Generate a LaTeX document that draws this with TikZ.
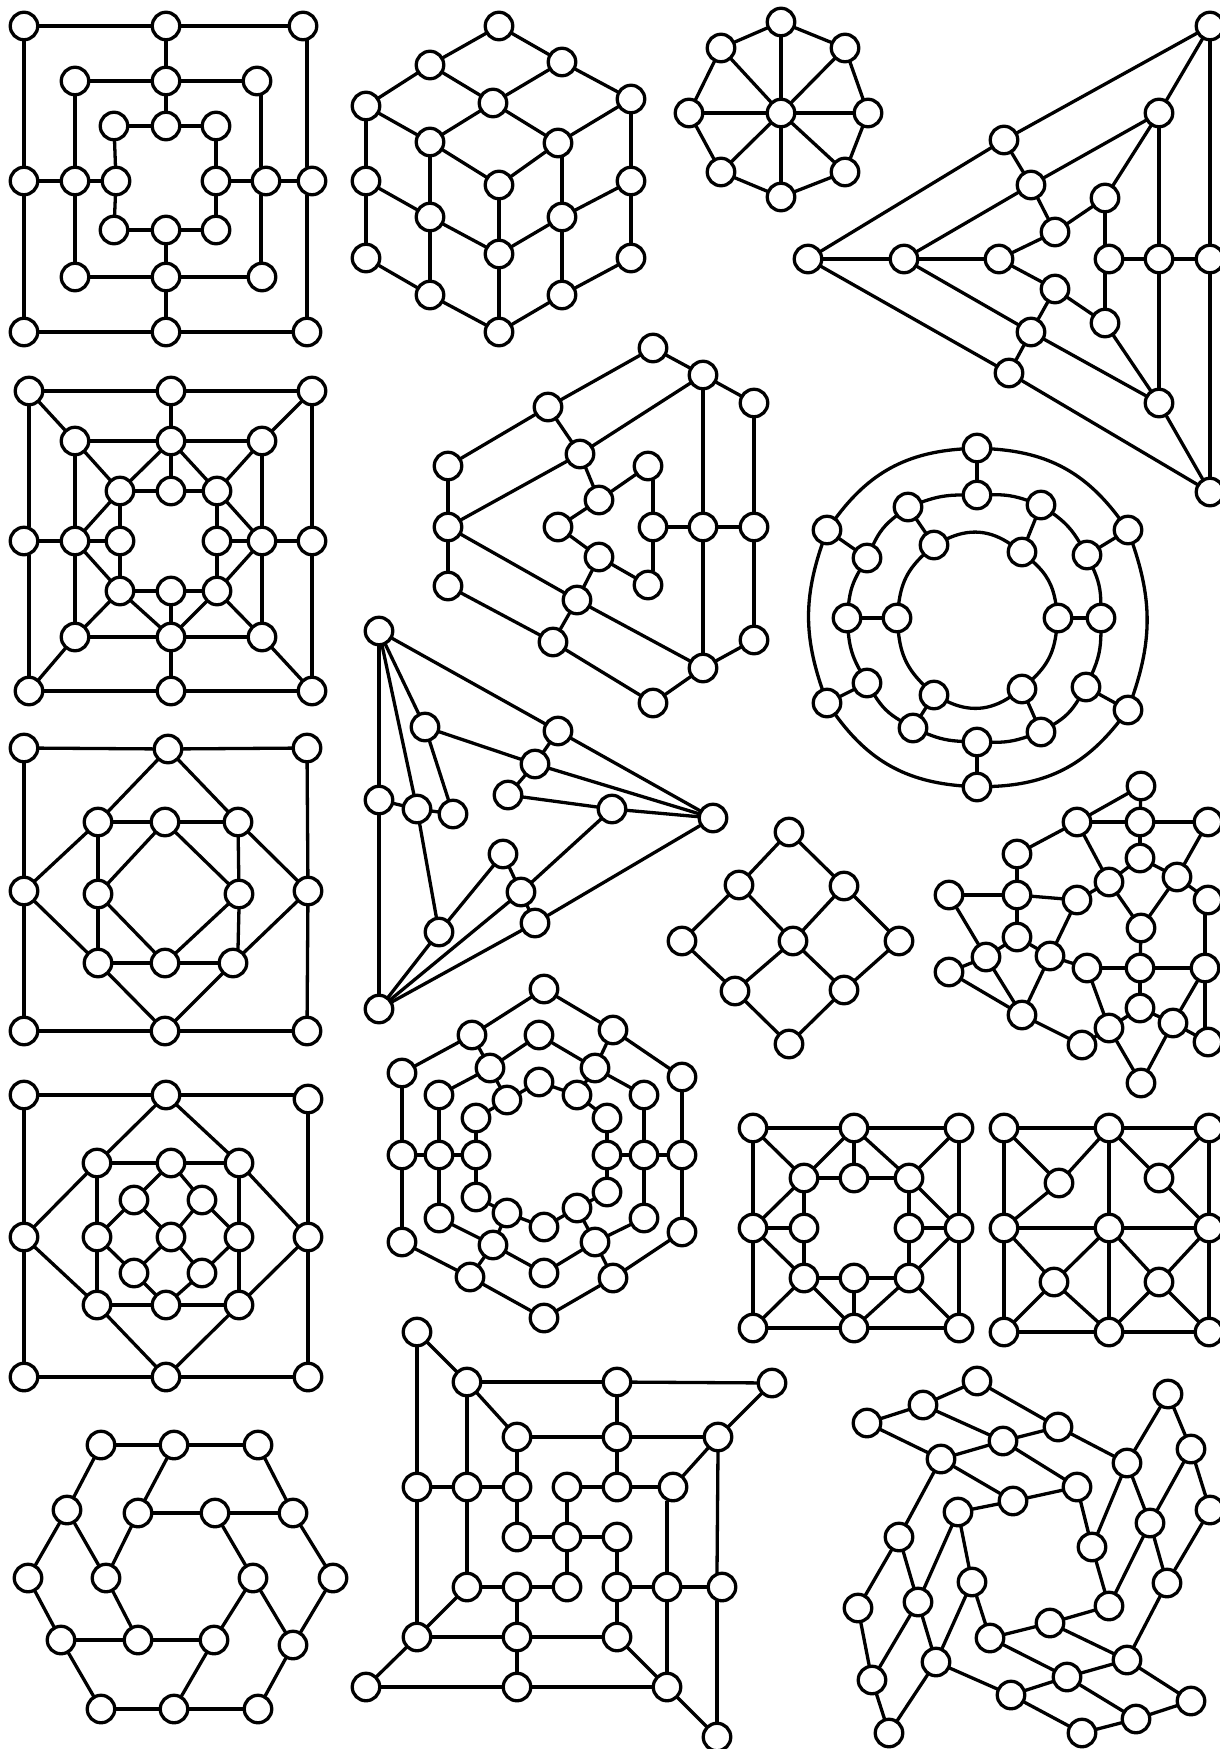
\documentclass[tikz,border=0pt]{standalone}
\tikzset{
  vtx/.style={circle,draw=black,fill=white,line width=3.3pt,inner sep=0pt,outer sep=0pt,minimum size=27.5pt},
  lnk/.style={draw=black,line width=3.3pt}
}
\newcommand\gph[3]{%
  \foreach \n/\x/\y in {#2}{\node[vtx] (#1\n) at (\x,\y) {};}
  \foreach \p/\q in {#3}{\draw[lnk] (#1\p) -- (#1\q);}
}
\newcommand\sedge[4]{\draw[lnk] ([shift={(#2)}]#1) -- ([shift={(#4)}]#3);}
\begin{document}
\begin{tikzpicture}[x=1pt,y=-1pt]
\fill[white] (0,0) rectangle (1220,1749);
\useasboundingbox (0,0) rectangle (1220,1749);
% 1 nested squares, top left
\gph{a}{1/24/26,2/166/26,3/303/26,4/75/81,5/166/81,6/257/81,7/114/126,8/166/126,9/216/126,
10/24/181,11/75/181,12/116/181,13/216/181,14/266/181,15/312/181,16/114/230,17/166/230,18/216/230,
19/75/277,20/166/277,21/262/277,22/24/332,23/166/332,24/307/332}
{1/2,2/3,1/10,10/22,22/23,23/24,2/5,4/5,5/6,4/11,11/19,5/8,7/8,8/9,7/12,12/16,9/13,13/18,
10/11,11/12,13/14,14/15,16/17,17/18,17/20,19/20,20/21,20/23}
\sedge{a3.south}{4,0}{a15.north}{-5,0}
\sedge{a15.south}{-5,0}{a24.north}{0,0}
\sedge{a6.south}{4,0}{a14.north}{-5,0}
\sedge{a14.south}{-5,0}{a21.north}{-1,0}
% 2 cube
\gph{b}{1/499/26,2/430/65,3/562/62,4/366/106,5/493/103,6/631/99,7/430/142,8/558/143,9/366/181,10/499/185,
11/631/181,12/430/217,13/562/217,14/366/258,15/499/254,16/631/258,17/430/295,18/562/295,19/499/332}
{1/2,1/3,2/4,2/5,3/5,3/6,4/7,5/7,5/8,6/8,7/10,8/10,4/9,9/14,6/11,11/16,7/12,12/17,13/18,10/15,15/19,
9/12,11/13,12/15,13/15,14/17,16/18,17/19,18/19}
\sedge{b8.south}{4,0}{b13.north}{0,0}
% 3 wheel
\gph{c}{0/781/113,1/781/22,2/845/48,3/868/113,4/845/172,5/781/197,6/721/172,7/689/113,8/721/48}
{1/2,2/3,3/4,4/5,5/6,6/7,7/8,8/1,0/1,0/2,0/3,0/4,0/5,0/6,0/7,0/8}
% 4 large triangle
\gph{d}{1/1210/26,2/1159/113,3/1105/198,4/1004/140,5/1031/185,6/1055/232,7/808/259,8/904/259,9/999/259,
10/1109/259,11/1159/259,12/1210/259,13/1055/289,14/1031/332,15/1105/323,16/1009/373,17/1159/403,18/1210/492}
{7/4,4/1,4/5,5/2,2/1,2/3,5/6,5/8,3/6,6/9,8/7,8/9,10/11,11/12,1/12,2/11,12/18,11/17,7/16,8/14,14/13,13/9,
13/15,14/16,14/17,15/17,16/18,17/18}
\sedge{d3.south}{0,0}{d10.north}{-4,0}
\sedge{d10.south}{-4,0}{d15.north}{0,0}
% 5 square with inner ring
\gph{e}{1/29/391,2/171/391,3/312/391,4/75/441,5/171/441,6/262/441,7/120/491,8/171/491,9/217/491,
10/24/541,11/75/541,12/120/541,13/217/541,14/262/541,15/312/541,16/120/591,17/171/591,18/217/591,
19/75/637,20/171/637,21/262/637,22/29/691,23/171/691,24/312/691}
{1/2,2/3,3/15,15/24,22/23,23/24,2/5,1/4,3/6,22/19,24/21,4/5,5/6,4/11,11/19,6/14,14/21,19/20,20/21,
5/8,7/8,8/9,7/12,12/16,9/13,13/18,16/17,17/18,10/11,11/12,13/14,14/15,20/17,20/23,4/7,5/7,5/9,6/9,7/11,9/14,
11/16,14/18,16/19,16/20,18/20,18/21}
\sedge{e1.south}{0,0}{e10.north}{5,0}
\sedge{e10.south}{5,0}{e22.north}{0,0}
% 6 triangle with hexagon interior
\gph{f}{1/653/348,2/703/375,3/754/403,4/548/407,5/580/454,6/448/466,7/648/466,8/599/500,9/448/527,10/558/527,
11/653/527,12/703/527,13/754/527,14/599/557,15/448/586,16/648/585,17/577/600,18/553/642,19/754/640,20/703/668,21/653/703}
{6/4,4/1,1/2,2/3,2/5,4/5,5/9,5/8,8/7,8/10,11/12,12/13,3/13,13/19,2/12,12/20,19/20,20/21,21/18,18/15,15/9,9/6,
9/17,17/14,14/10,14/16,17/18,17/20}
\sedge{f7.south}{5,0}{f11.north}{0,0}
\sedge{f16.north}{5,0}{f11.south}{0,0}
% 7 concentric rings
\gph{g}{1/977/448,2/977/495,3/908/507,4/1041/505,5/827/530,6/1128/530,7/867/558,8/934/545,9/1022/552,10/1087/555,
11/847/618,12/897/618,13/1058/618,14/1101/618,15/867/683,16/934/695,17/1022/689,18/1086/687,19/827/703,20/1128/710,
21/913/728,22/1041/732,23/977/742,24/977/787}
{1/2,3/8,4/9,5/7,6/10,11/12,13/14,15/19,18/20,16/21,17/22,23/24}
\foreach \p/\q/\b in {1/6/25,6/20/19,20/24/25,24/19/25,19/5/19,5/1/25,
2/4/10,4/10/12,10/14/12,14/18/12,18/22/14,22/23/10,23/21/10,21/15/14,15/11/12,11/7/12,7/3/14,3/2/10,
8/9/30,9/13/20,13/17/20,17/16/30,16/12/20,12/8/20}
  {\draw[lnk] (g\p) to[bend left=\b] (g\q);}
% 8 square and diamonds, row 3
\gph{h}{1/24/748,2/168/749,3/307/748,4/98/822,5/165/822,6/238/822,7/24/891,8/98/894,9/239/894,10/308/891,
11/98/963,12/165/963,13/233/963,14/24/1031,15/165/1031,16/307/1031}
{1/2,2/3,1/7,7/14,3/10,10/16,14/15,15/16,2/4,2/6,7/4,7/11,10/6,10/13,15/11,15/13,4/5,5/6,4/8,8/11,6/9,
11/12,12/13,5/8,5/9,8/12,9/12}
\sedge{h9.south}{0,0}{h13.north}{5,0}
% 9 skewed triangle
\gph{i}{1/379/631,2/558/731,3/425/727,4/535/764,5/508/795,6/612/809,7/713/818,8/379/800,9/417/809,10/453/814,
11/503/854,12/521/892,13/535/923,14/439/932,15/379/1009}
{1/2,2/7,1/8,8/15,1/3,1/9,3/10,3/4,2/4,4/7,4/5,5/6,6/7,8/9,9/10,9/14,14/11,14/15,11/12,12/6,12/15,13/7,13/15,12/13}
% 10 small diamond grid
\gph{j}{1/789/832,2/739/885,3/844/886,4/682/941,5/793/941,6/899/941,7/735/991,8/844/990,9/789/1044}
{1/2,1/3,2/4,2/5,3/5,3/6,4/7,5/7,5/8,6/8,7/9,8/9}
% 11 pentagon pattern at right
\gph{k}{1/1141/786,2/1077/822,3/1140/822,4/1208/822,5/1017/854,6/1140/858,7/949/895,8/1017/895,9/1077/900,10/1109/882,
11/1177/877,12/1208/900,13/1141/928,14/1017/937,15/986/957,16/1050/956,17/949/972,18/1087/968,19/1140/968,20/1205/968,
21/1140/1008,22/1022/1015,23/1109/1028,24/1173/1023,25/1082/1045,26/1208/1042,27/1141/1083}
{1/3,1/2,2/3,3/4,3/6,2/5,2/10,4/11,5/8,6/10,6/11,7/8,8/9,8/14,7/15,9/10,9/16,10/13,11/13,11/12,13/19,14/15,14/16,
15/17,15/22,16/22,16/18,17/22,18/19,19/20,19/21,18/23,20/24,21/23,21/24,22/25,23/25,23/27,24/27,24/26}
\sedge{k12.south}{-3,0}{k20.north}{0,0}
\sedge{k20.south}{0,0}{k26.north}{-3,0}
% 12 hexagon rings
\gph{l}{1/544/989,2/472/1035,3/539/1035,4/613/1030,5/402/1073,6/490/1068,7/539/1082,8/595/1068,9/682/1077,10/439/1095,
11/507/1100,12/577/1095,13/644/1095,14/476/1118,15/607/1118,16/402/1155,17/439/1155,18/476/1155,19/607/1155,20/644/1155,
21/682/1155,22/476/1197,23/607/1192,24/507/1213,25/577/1208,26/439/1218,27/644/1218,28/544/1227,29/402/1242,30/682/1232,
31/493/1245,32/595/1242,33/544/1273,34/470/1277,35/613/1278,36/544/1318}
{1/2,1/4,2/5,4/9,5/16,16/29,9/21,21/30,29/34,30/35,34/36,35/36,2/6,3/6,3/8,4/8,6/10,8/13,10/17,17/26,13/20,20/27,26/31,27/32,
31/33,32/33,31/34,32/35,6/11,7/11,7/12,8/12,11/14,12/15,14/18,15/19,18/22,19/23,22/24,23/25,24/28,25/28,24/31,25/32,
16/17,17/18,19/20,20/21}
% 13 square with diamonds and inner wheel
\gph{m}{1/24/1095,2/166/1095,3/308/1099,4/97/1163,5/171/1163,6/239/1163,7/134/1200,8/202/1200,9/24/1237,10/97/1237,
11/171/1237,12/239/1237,13/308/1237,14/134/1273,15/202/1273,16/97/1305,17/166/1305,18/239/1305,19/24/1377,20/166/1377,21/308/1377}
{1/2,1/9,9/19,3/13,13/21,19/20,20/21,2/4,2/6,9/4,9/16,13/6,13/18,20/16,20/18,4/5,5/6,16/17,17/18,4/10,10/16,6/12,12/18,
5/7,5/8,7/10,8/12,7/11,8/11,10/14,12/15,14/11,15/11,14/17,15/17}
\sedge{m2.east}{0,0}{m3.west}{0,-4}
% 14 square, right pair, left
\gph{n}{1/753/1128,2/854/1128,3/959/1128,4/804/1178,5/854/1178,6/909/1178,7/753/1228,8/804/1228,9/909/1228,10/959/1228,
11/804/1278,12/854/1278,13/909/1278,14/753/1328,15/854/1328,16/959/1328}
{1/2,2/3,1/7,7/14,3/10,10/16,14/15,15/16,1/4,2/4,2/5,2/6,3/6,4/5,5/6,7/4,10/6,4/8,6/9,7/8,9/10,7/11,10/13,8/11,9/13,
11/12,12/13,14/11,16/13,15/11,15/12,15/13}
% 15 square, right pair, right
\gph{o}{1/1004/1128,2/1109/1128,3/1209/1128,4/1059/1183,5/1159/1178,6/1004/1228,7/1109/1228,8/1209/1228,9/1054/1282,10/1159/1282,
11/1004/1332,12/1109/1332,13/1209/1332}
{1/2,2/3,6/7,7/8,11/12,12/13,1/6,6/11,2/7,7/12,3/8,8/13,1/4,2/4,6/4,2/5,3/5,8/5,6/9,7/9,11/9,12/9,7/10,8/10,12/10,13/10}
% 16 hexagon pinwheel, bottom left
\gph{p}{1/101/1445,2/174/1445,3/258/1445,4/67/1510,5/138/1513,6/215/1513,7/293/1513,8/28/1578,9/106/1578,10/253/1578,11/333/1578,
12/61/1640,13/138/1640,14/214/1640,15/293/1645,16/101/1709,17/174/1709,18/258/1709}
{1/2,2/3,1/4,3/7,2/5,5/6,6/7,4/8,4/9,5/9,7/11,6/10,9/13,10/15,10/14,8/12,11/15,12/13,13/14,12/16,16/17,17/18,14/17,15/18}
% 17 offset grid
\gph{q}{1/417/1332,2/467/1382,3/617/1382,4/772/1383,5/517/1437,6/617/1437,7/718/1437,8/417/1487,9/467/1487,10/517/1487,
11/567/1487,12/617/1487,13/673/1487,14/517/1537,15/567/1537,16/617/1537,17/467/1587,18/517/1587,19/567/1587,20/617/1587,
21/667/1587,22/722/1587,23/417/1637,24/517/1637,25/617/1637,26/366/1687,27/517/1687,28/667/1687,29/717/1737}
{1/2,1/8,8/23,2/3,3/4,2/5,2/9,9/17,3/6,4/7,5/6,6/7,5/10,6/12,7/13,8/9,9/10,10/14,11/12,12/13,11/15,14/15,15/16,15/19,
16/20,17/18,18/19,17/23,18/24,20/21,21/22,20/25,21/28,23/24,24/25,23/26,24/27,25/28,26/27,27/28,28/29}
\sedge{q13.south}{-6,0}{q21.north}{0,0}
\sedge{q7.south}{0,0}{q22.north}{-5,0}
\sedge{q22.south}{-5,0}{q29.north}{0,0}
% 18 four-blade pinwheel
\gph{r}{1/977/1381,2/1168/1394,3/923/1405,4/867/1423,5/1058/1427,6/1003/1441,7/1191/1449,8/941/1459,9/1127/1463,10/1077/1487,
11/1013/1501,12/1210/1510,13/958/1512,14/1150/1523,15/899/1537,16/1092/1547,17/1167/1583,18/972/1582,19/918/1602,20/1109/1606,
21/858/1608,22/1050/1623,23/990/1638,24/1127/1660,25/936/1662,26/1067/1677,27/872/1680,28/1011/1695,29/1191/1701,30/1136/1719,
31/889/1733,32/1082/1733}
{1/3,3/4,4/8,3/6,1/5,6/5,6/8,5/9,6/10,8/11,11/10,13/11,2/9,2/7,7/14,9/14,7/12,9/16,10/16,14/20,16/20,14/17,12/17,
17/24,20/22,22/23,22/24,23/26,24/26,24/29,26/28,26/30,25/28,28/32,30/29,32/30,8/15,15/21,15/19,13/19,13/18,18/25,19/25,
19/27,21/27,25/31,27/31,18/23}
\end{tikzpicture}
\end{document}
